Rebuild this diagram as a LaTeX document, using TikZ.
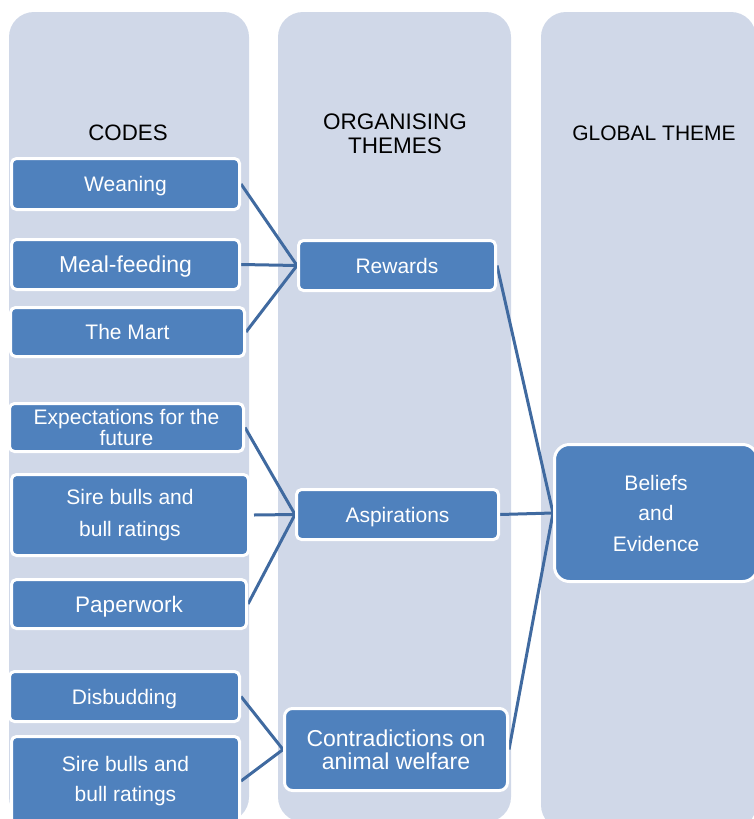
\documentclass[tikz,border=0pt]{standalone}
\usepackage{fontspec}
\setmainfont{Liberation Sans}
\definecolor{colbg}{RGB}{208,216,232}
\definecolor{boxblue}{RGB}{79,129,189}
\definecolor{linkblue}{RGB}{64,106,160}
\pgfdeclarelayer{bglayer}
\pgfdeclarelayer{linelayer}
\pgfsetlayers{bglayer,linelayer,main}
\tikzset{
  colbox/.style={fill=colbg, draw=none, rounded corners=25pt},
  box/.style={fill=boxblue, draw=white, line width=3pt, rounded corners=5pt, text=white,
    inner sep=0pt, align=center, font=\fontsize{21}{21}\selectfont},
  oneline/.style={text height=15pt, text depth=0pt},
  bigline/.style={text height=16.3pt, text depth=0pt},
  head/.style={text=black, align=center, font=\fontsize{22}{24}\selectfont, inner sep=0pt},
  link/.style={draw=linkblue, line width=3pt}
}
\begin{document}
\begin{tikzpicture}[x=1pt,y=-1pt]
\useasboundingbox (0,0) rectangle (753,819);
\begin{pgfonlayer}{bglayer}
  \fill[colbox] (9,12) rectangle (249,822);
  \fill[colbox] (278,12) rectangle (511,822);
  \fill[colbox] (541,12) rectangle (756,830);
\end{pgfonlayer}

% headings
\node[head, font=\fontsize{22.3}{24}\selectfont, text height=15.9pt, text depth=0pt] (hcodes) at (128,133) {CODES};
\node[head, font=\fontsize{22.5}{24.5}\selectfont] (horg) at (395,134) {ORGANISING\\THEMES};
\node[head, font=\fontsize{21}{24}\selectfont, text height=15pt, text depth=0pt] (hglob) at (654,133) {GLOBAL THEME};

% codes
\node[box, oneline, minimum width=228pt, minimum height=51pt] (weaning) at (125.5,184) {Weaning};
\node[box, bigline, minimum width=228pt, minimum height=50pt, font=\fontsize{23}{23}\selectfont] (meal) at (125.5,264.5) {Meal-feeding};
\node[box, oneline, minimum width=234pt, minimum height=49pt] (mart) at (127.5,332) {The Mart};
\node[box, minimum width=234pt, minimum height=48pt] (expect) at (126.5,427.5) {Expectations for the\\future};
\node[box, minimum width=237pt, minimum height=81pt, font=\fontsize{21}{32}\selectfont] (sireA) at (130,515) {Sire bulls and\\bull ratings};
\node[box, bigline, minimum width=235pt, minimum height=49pt, font=\fontsize{22.5}{22.5}\selectfont] (paper) at (129,604) {Paperwork};
\node[box, oneline, minimum width=230pt, minimum height=50pt] (disbud) at (124.5,696.5) {Disbudding};
\node[box, minimum width=228pt, minimum height=89pt, font=\fontsize{21}{30}\selectfont] (sireB) at (125.5,781) {Sire bulls and\\bull ratings};

% organising themes
\node[box, oneline, minimum width=197pt, minimum height=50pt] (rewards) at (397,265.5) {Rewards};
\node[box, oneline, minimum width=202pt, minimum height=50pt] (aspir) at (397.5,514.5) {Aspirations};
\node[box, minimum width=223pt, minimum height=82pt, rounded corners=8pt, font=\fontsize{23}{23}\selectfont] (contra) at (396,749.5) {Contradictions on\\animal welfare};

% global theme
\node[box, minimum width=203pt, minimum height=137pt, rounded corners=15pt, font=\fontsize{21}{30.5}\selectfont] (beliefs) at (656,513) {Beliefs\\and\\Evidence};

\begin{pgfonlayer}{linelayer}
  \draw[link] (weaning.east) -- (rewards.west);
  \draw[link] (meal.east) -- (rewards.west);
  \draw[link] (mart.east) -- (rewards.west);
  \draw[link] (expect.east) -- (aspir.west);
  \draw[link] ([xshift=4pt]sireA.east) -- (aspir.west);
  \draw[link] (paper.east) -- (aspir.west);
  \draw[link] (disbud.east) -- (contra.west);
  \draw[link] (sireB.east) -- (contra.west);
  \draw[link] (rewards.east) -- (beliefs.west);
  \draw[link] (aspir.east) -- (beliefs.west);
  \draw[link] (contra.east) -- (beliefs.west);
\end{pgfonlayer}
\end{tikzpicture}
\end{document}
